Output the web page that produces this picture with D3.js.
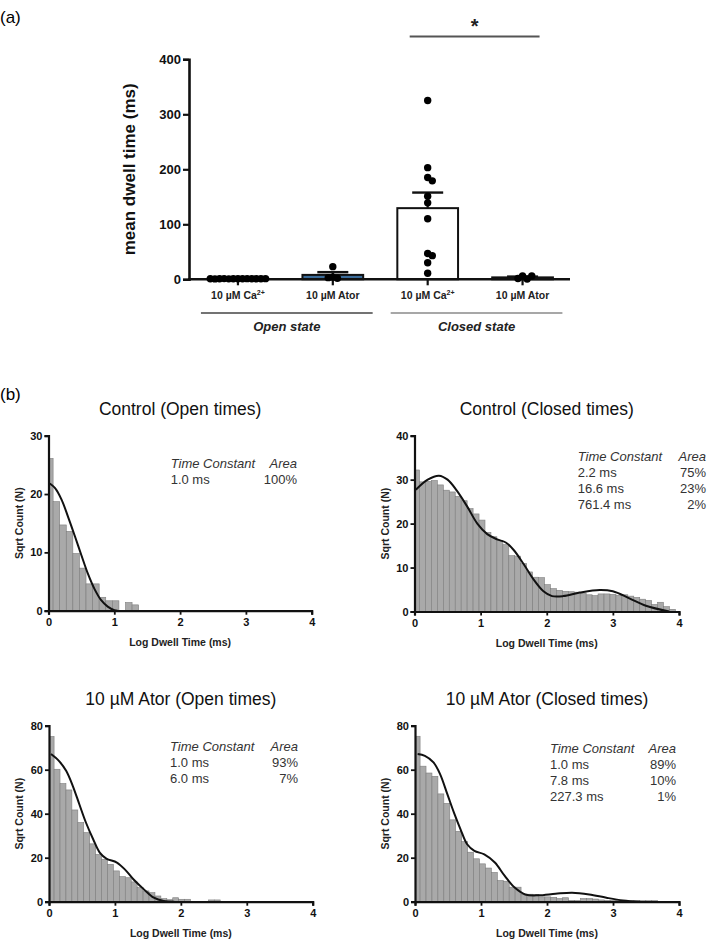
<!DOCTYPE html>
<meta charset="utf-8">
<style>
body { margin: 0; background: #fff; }
svg { display: block; font-family: "Liberation Sans", Arial, sans-serif; }
.axis path, .axis line { stroke: #111; }
.narrow { font-family: "Liberation Sans Narrow", "Arial Narrow", "Liberation Sans", sans-serif; }
</style>
<svg width="709" height="940"></svg>
<script src="https://cdn.jsdelivr.net/npm/d3@7"></script>
<script>

// ---- panel (a) data ----
var catLabels = ["10 \u00b5M Ca", "10 \u00b5M Ator", "10 \u00b5M Ca", "10 \u00b5M Ator"];
var catSup = ["2+", "", "2+", ""];
var openCa = [1.0, 0.9, 1.1, 1.2, 0.8, 1.0, 1.3, 0.9, 1.1, 1.0, 0.7, 1.2, 1.0];
var openAtor = [23, 4, 2, 3];
var closedCa = [325, 203, 185, 179, 151, 139, 110, 47, 43, 30, 11];
var closedAtor = [6, 0.5, 1.5, 6];
var barFills = ["#fff", "#3b6c9a", "#fff", "#fff"];
var groupLabels = ["Open state", "Closed state"];
var yTicksA = [0, 100, 200, 300, 400];

// ---- panel (b) data: sqrt counts per log bin, and fitted curve ----
var titles = ["Control (Open times)", "Control (Closed times)", "10 \u00b5M Ator (Open times)", "10 \u00b5M Ator (Closed times)"];
var ctrlOpenBars = [26.1, 18.7, 14.7, 13.6, 9.8, 7.3, 4.6, 4.6, 2.3, 1.7, 1.7, 0, 1.4, 1.0];
var ctrlClosedBars = [32.2, 29.5, 29.6, 29.8, 28.8, 27.6, 27.2, 26.2, 25.2, 23.4, 22.2, 20.8, 18.0, 17.0, 16.2, 15.2,
  12.7, 12.6, 10.9, 9.0, 7.8, 7.7, 6.1, 5.2, 4.8, 4.6, 4.5, 4.4, 4.2, 3.8, 3.6, 4.0, 4.0, 3.9, 3.7, 3.8, 3.5, 3.2,
  2.8, 2.5, 1.6, 2.1, 1.1, 0.5];
var atorOpenBars = [75.1, 60.2, 53.7, 50.8, 41.7, 36.0, 31.4, 26.3, 21.5, 19.3, 17.0, 14.0, 11.4, 10.9, 9.0, 6.4,
  4.9, 4.1, 2.6, 1.4, 0.9, 1.8, 1.1, 1.1, 0, 0, 0, 0.8, 0.8];
var atorClosedBars = [75.2, 61.6, 58.5, 57.0, 49.0, 44.7, 37.2, 32.0, 27.3, 22.5, 19.5, 17.2, 15.3, 13.3, 9.6, 9.3,
  6.6, 6.6, 3.4, 3.4, 3.3, 2.2, 2.2, 2.0, 1.4, 1.8, 0.6, 0.5, 1.4, 1.4, 1.2, 0.8, 0.6, 0.5, 0.4, 0.5, 0.5, 0.5,
  0.5, 0.5, 0.5];
var ctrlOpenFit = [[0.02, 21.8], [0.1, 21.0], [0.2, 19.0], [0.3, 16.0], [0.4, 12.8], [0.5, 9.5], [0.6, 6.3],
  [0.7, 3.7], [0.8, 1.8], [0.9, 0.7], [1.0, 0.1], [1.05, 0]];
var ctrlClosedFit = [[0.02, 27.7], [0.2, 30.0], [0.37, 30.9], [0.5, 30.0], [0.64, 27.5], [0.8, 23.8], [0.95, 20.0],
  [1.1, 17.6], [1.25, 16.4], [1.38, 15.7], [1.5, 14.0], [1.65, 10.8], [1.8, 7.3], [1.95, 4.6], [2.08, 3.5],
  [2.25, 3.5], [2.5, 4.3], [2.8, 4.9], [3.0, 4.6], [3.25, 3.0], [3.5, 1.3], [3.85, 0]];
var atorOpenFit = [[0.03, 67.1], [0.15, 64], [0.26, 59.5], [0.36, 52.7], [0.46, 44.3], [0.56, 36], [0.67, 28.4],
  [0.77, 22.3], [0.87, 19.6], [1.03, 17.8], [1.15, 14.7], [1.28, 10.2], [1.44, 5.6], [1.59, 1.8], [1.74, 0.3], [1.9, 0]];
var atorClosedFit = [[0.04, 67.1], [0.15, 66.3], [0.28, 63.3], [0.38, 58], [0.49, 48.9], [0.59, 40.5], [0.69, 32.9],
  [0.79, 26.1], [0.9, 23.1], [1.05, 21.5], [1.21, 17.8], [1.36, 11.7], [1.51, 6.4], [1.67, 3.3], [1.87, 2.9],
  [2.13, 3.6], [2.38, 4.1], [2.64, 3.3], [2.9, 1.8], [3.15, 0.6], [3.41, 0]];
var ctrlOpenTau = ["1.0 ms"], ctrlOpenArea = ["100%"];
var ctrlClosedTau = ["2.2 ms", "16.6 ms", "761.4 ms"], ctrlClosedArea = ["75%", "23%", "2%"];
var atorOpenTau = ["1.0 ms", "6.0 ms"], atorOpenArea = ["93%", "7%"];
var atorClosedTau = ["1.0 ms", "7.8 ms", "227.3 ms"], atorClosedArea = ["89%", "10%", "1%"];

var svg = d3.select("svg");

// ================= panel (a) =================
svg.append("text").attr("x", 0).attr("y", 23).attr("font-size", 17).text("(a)");

var groupsA = [openCa, openAtor, closedCa, closedAtor];
var xA = d3.scaleBand().domain(d3.range(4)).range([190.5, 570]).paddingInner(0.36).paddingOuter(0.18);
var yA = d3.scaleLinear().domain([0, 400]).range([279.3, 59.3]);

var statsA = groupsA.map(function(v) {
  var m = d3.mean(v), sem = d3.deviation(v) / Math.sqrt(v.length);
  return { mean: m, sem: sem };
});

var gA = svg.append("g");

// bars
gA.selectAll("rect.bar").data(statsA).enter().append("rect")
  .attr("x", function(d, i) { return xA(i); })
  .attr("width", xA.bandwidth())
  .attr("y", function(d) { return yA(d.mean); })
  .attr("height", function(d) { return yA(0) - yA(d.mean); })
  .attr("fill", function(d, i) { return barFills[i]; })
  .attr("stroke", "#111").attr("stroke-width", 2);

// error bars (upper)
statsA.forEach(function(d, i) {
  var cx = xA(i) + xA.bandwidth() / 2;
  gA.append("line").attr("x1", cx).attr("x2", cx)
    .attr("y1", yA(d.mean)).attr("y2", yA(d.mean + d.sem))
    .attr("stroke", "#111").attr("stroke-width", 2.2);
  gA.append("line").attr("x1", cx - 15.5).attr("x2", cx + 15.5)
    .attr("y1", yA(d.mean + d.sem)).attr("y2", yA(d.mean + d.sem))
    .attr("stroke", "#111").attr("stroke-width", 2.4);
});

// y axis
var yAxisA = gA.append("g").attr("class", "axis")
  .attr("transform", "translate(189,0)")
  .call(d3.axisLeft(yA).tickValues(yTicksA).tickSize(6).tickPadding(2));
yAxisA.select(".domain").attr("stroke-width", 2.6);
yAxisA.selectAll(".tick line").attr("stroke-width", 2.2);
yAxisA.selectAll("text").attr("font-size", 13).attr("font-weight", "bold").attr("fill", "#111")
  .attr("font-family", "'Liberation Sans', Arial, sans-serif");

// x axis line + ticks
gA.append("line").attr("x1", 188).attr("x2", 570).attr("y1", yA(0)).attr("y2", yA(0))
  .attr("stroke", "#111").attr("stroke-width", 2.6);
d3.range(4).forEach(function(i) {
  var cx = xA(i) + xA.bandwidth() / 2;
  gA.append("line").attr("x1", cx).attr("x2", cx).attr("y1", yA(0)).attr("y2", yA(0) + 6)
    .attr("stroke", "#111").attr("stroke-width", 2.2);
  var t = gA.append("text").attr("class", "narrow").attr("x", cx).attr("y", 299)
    .attr("text-anchor", "middle").attr("font-size", 10.5).attr("font-weight", "bold").attr("fill", "#222")
    .text(catLabels[i]);
  if (catSup[i]) t.append("tspan").attr("dy", -4).attr("font-size", 7).text(catSup[i]);
});

// scatter points, simple swarm so equal values sit side by side
var r = 3.7, spacing = 4.6;
groupsA.forEach(function(vals, i) {
  var cx = xA(i) + xA.bandwidth() / 2;
  var placed = [];
  vals.forEach(function(v) {
    var py = yA(v), best = 0;
    for (var k = 0; k < 40; k++) {
      var off = (k % 2 ? 1 : -1) * Math.ceil(k / 2) * spacing;
      var ok = placed.every(function(p) {
        return Math.hypot(p[0] - (cx + off), p[1] - py) >= spacing - 0.01;
      });
      if (ok) { best = off; break; }
    }
    placed.push([cx + best, py]);
  });
  gA.selectAll(null).data(placed).enter().append("circle")
    .attr("cx", function(d) { return d[0]; })
    .attr("cy", function(d) { return d[1]; })
    .attr("r", r).attr("fill", "#000");
});

// y label
svg.append("text")
  .attr("transform", "translate(135," + ((yA(0) + yA(400)) / 2) + ") rotate(-90)")
  .attr("text-anchor", "middle").attr("font-size", 17).attr("font-weight", "bold").attr("fill", "#111")
  .text("mean dwell time (ms)");

// group lines
var stepA = xA.step();
[[0, 1, "#444"], [2, 3, "#8a8a8a"]].forEach(function(g, j) {
  var a = xA(g[0]) + xA.bandwidth() / 2 - 0.39 * stepA;
  var b = xA(g[1]) + xA.bandwidth() / 2 + 0.42 * stepA;
  svg.append("line").attr("x1", a).attr("x2", b).attr("y1", 313).attr("y2", 313)
    .attr("stroke", g[2]).attr("stroke-width", 1.6);
  svg.append("text").attr("x", (a + b) / 2).attr("y", 331).attr("text-anchor", "middle")
    .attr("font-size", 13).attr("font-weight", "bold").attr("font-style", "italic").attr("fill", "#222")
    .text(groupLabels[j]);
});

// significance
var sx1 = xA(2) + xA.bandwidth() / 2 - 18, sx2 = xA(3) + xA.bandwidth() / 2 + 17;
svg.append("line").attr("x1", sx1).attr("x2", sx2).attr("y1", 36.5).attr("y2", 36.5)
  .attr("stroke", "#555").attr("stroke-width", 2.2);
svg.append("text").attr("x", (sx1 + sx2) / 2).attr("y", 33).attr("text-anchor", "middle")
  .attr("font-size", 20).attr("font-weight", "bold").attr("fill", "#222").text("*");

// ================= panel (b) =================
svg.append("text").attr("x", 0).attr("y", 400).attr("font-size", 17).text("(b)");

var panels = [
  { title: titles[0], bars: ctrlOpenBars, fit: ctrlOpenFit, off: -0.03, w: 0.1, ymax: 30, yt: [0, 10, 20, 30],
    x0: 48.5, x1: 311.7, yb: 610.7, yt0: 435.7, tau: ctrlOpenTau, area: ctrlOpenArea, tl: 170.7, tr: 297, tb: 468 },
  { title: titles[1], bars: ctrlClosedBars, fit: ctrlClosedFit, off: -0.014, w: 0.09, ymax: 40, yt: [0, 10, 20, 30, 40],
    x0: 414.5, x1: 679, yb: 611.5, yt0: 435.7, tau: ctrlClosedTau, area: ctrlClosedArea, tl: 577.7, tr: 706, tb: 461 },
  { title: titles[2], bars: atorOpenBars, fit: atorOpenFit, off: -0.013, w: 0.09, ymax: 80, yt: [0, 20, 40, 60, 80],
    x0: 49, x1: 312.7, yb: 901.7, yt0: 725.7, tau: atorOpenTau, area: atorOpenArea, tl: 170, tr: 298, tb: 751 },
  { title: titles[3], bars: atorClosedBars, fit: atorClosedFit, off: -0.013, w: 0.09, ymax: 80, yt: [0, 20, 40, 60, 80],
    x0: 415, x1: 679, yb: 901.7, yt0: 725.7, tau: atorClosedTau, area: atorClosedArea, tl: 550, tr: 676, tb: 753 }
];

panels.forEach(function(p) {
  var g = svg.append("g");
  var x = d3.scaleLinear().domain([0, 4]).range([p.x0, p.x1]);
  var y = d3.scaleLinear().domain([0, p.ymax]).range([p.yb, p.yt0]);

  var bins = p.bars.map(function(v, k) {
    return { a: Math.max(0.012, p.off + p.w * k), b: p.off + p.w * (k + 1), v: v };
  });
  g.selectAll("rect").data(bins.filter(function(d) { return d.v > 0; })).enter().append("rect")
    .attr("x", function(d) { return x(d.a); })
    .attr("width", function(d) { return x(d.b) - x(d.a); })
    .attr("y", function(d) { return y(d.v); })
    .attr("height", function(d) { return y(0) - y(d.v); })
    .attr("fill", "#a9a9a9").attr("stroke", "#7d7d7d").attr("stroke-width", 0.6);

  g.append("path").datum(p.fit)
    .attr("d", d3.line().x(function(d) { return x(d[0]); }).y(function(d) { return y(d[1]); })
      .curve(d3.curveCatmullRom.alpha(0.5)))
    .attr("fill", "none").attr("stroke", "#111").attr("stroke-width", 2);

  var xa = g.append("g").attr("class", "axis").attr("transform", "translate(0," + p.yb + ")")
    .call(d3.axisBottom(x).tickValues([0, 1, 2, 3, 4]).tickFormat(d3.format("d")).tickSize(4).tickPadding(4));
  var ya = g.append("g").attr("class", "axis").attr("transform", "translate(" + p.x0 + ",0)")
    .call(d3.axisLeft(y).tickValues(p.yt).tickSize(4).tickPadding(2));
  [xa, ya].forEach(function(a) {
    a.select(".domain").attr("stroke-width", 2.2);
    a.selectAll(".tick line").attr("stroke-width", 1.8);
    a.selectAll("text").attr("font-size", 11).attr("font-weight", "bold").attr("fill", "#111")
      .attr("font-family", "'Liberation Sans', Arial, sans-serif");
  });

  g.append("text").attr("x", (p.x0 + p.x1) / 2).attr("y", p.yt0 - 21).attr("text-anchor", "middle")
    .attr("font-size", 17.5).attr("fill", "#111").text(p.title);
  g.append("text").attr("x", (p.x0 + p.x1) / 2).attr("y", p.yb + 35).attr("text-anchor", "middle")
    .attr("font-size", 10.5).attr("font-weight", "bold").attr("fill", "#222").text("Log Dwell Time (ms)");
  g.append("text")
    .attr("transform", "translate(" + (p.x0 - 26) + "," + ((p.yb + p.yt0) / 2) + ") rotate(-90)")
    .attr("text-anchor", "middle").attr("font-size", 10.5).attr("font-weight", "bold").attr("fill", "#222")
    .text("Sqrt Count (N)");

  // fit table
  g.append("text").attr("x", p.tl).attr("y", p.tb).attr("font-size", 13).attr("font-style", "italic")
    .attr("fill", "#333").text("Time Constant");
  g.append("text").attr("x", p.tr).attr("y", p.tb).attr("text-anchor", "end").attr("font-size", 13)
    .attr("font-style", "italic").attr("fill", "#333").text("Area");
  p.tau.forEach(function(t, i) {
    g.append("text").attr("x", p.tl).attr("y", p.tb + 16 * (i + 1)).attr("font-size", 13)
      .attr("fill", "#333").text(t);
    g.append("text").attr("x", p.tr).attr("y", p.tb + 16 * (i + 1)).attr("text-anchor", "end")
      .attr("font-size", 13).attr("fill", "#333").text(p.area[i]);
  });
});

</script>
